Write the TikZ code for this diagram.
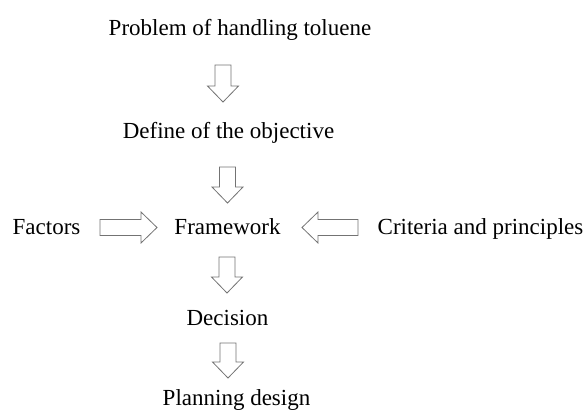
\documentclass[tikz,border=0pt]{standalone}
\usepackage{fontspec}
\setmainfont{Liberation Serif}
\usepackage{tikz}
\usetikzlibrary{positioning}

\tikzset{
  label text/.style={anchor=base, inner sep=0pt, font=\fontsize{23}{27}\selectfont},
  arrowline/.style={draw=black!55, line width=0.8pt, fill=white, line join=miter},
  pics/hollowarrow/.style={code={
    \draw[arrowline] (0,-8) -- ({#1-16},-8) -- ({#1-16},-15.5) -- (#1,0)
      -- ({#1-16},15.5) -- ({#1-16},8) -- (0,8) -- cycle;
  }},
}

\begin{document}
\begin{tikzpicture}[x=1pt,y=1pt]
\useasboundingbox (0,0) rectangle (586,-410);
% steps of the flow
\node[label text] (problem) at (240,-35) {Problem of handling toluene};
\node[label text] (objective) at (228.5,-138) {Define of the objective};
\node[label text] (framework) at (227.5,-234) {Framework};
\node[label text] (factors) at (46.5,-234) {Factors};
\node[label text] (criteria) at (480.5,-234) {Criteria and principles};
\node[label text] (decision) at (227.5,-325) {Decision};
\node[label text] (planning) at (236.5,-405) {Planning design};
% hollow arrows
\pic[rotate=-90] (down1) at (223,-65) {hollowarrow=37};
\pic[rotate=-90] (down2) at (227.5,-167) {hollowarrow=36};
\pic[rotate=-90] (down3) at (227,-257) {hollowarrow=36};
\pic[rotate=-90] (down4) at (228,-343) {hollowarrow=35};
\pic (right1) at (100,-227.5) {hollowarrow=57};
\pic[rotate=180] (left1) at (358,-227.5) {hollowarrow=56};
\end{tikzpicture}
\end{document}
